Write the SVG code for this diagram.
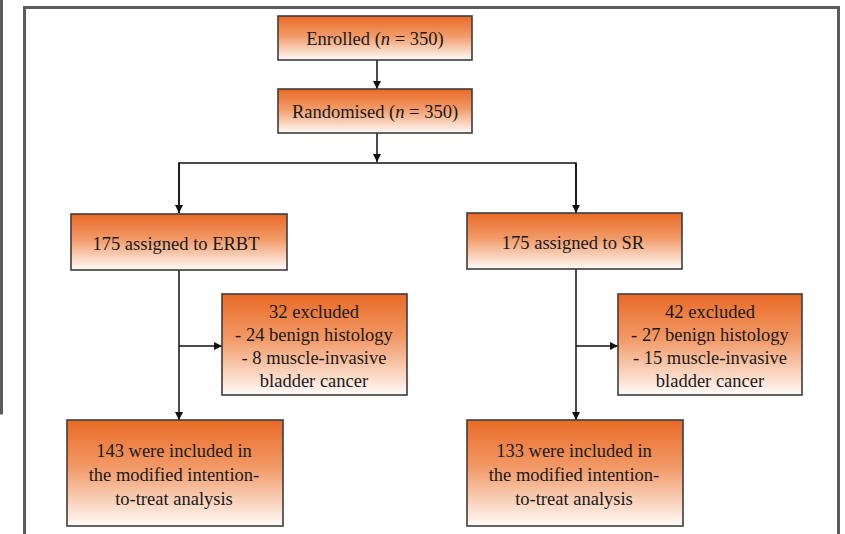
<svg xmlns="http://www.w3.org/2000/svg" width="845" height="534" viewBox="0 0 845 534">
<defs>
<linearGradient id="g" x1="0" y1="0" x2="0" y2="1">
<stop offset="0" stop-color="#E96A26"/>
<stop offset="0.45" stop-color="#F29A68"/>
<stop offset="1" stop-color="#FFFBF8"/>
</linearGradient>
<marker id="ah" viewBox="0 0 10 10" refX="10" refY="5" markerWidth="8" markerHeight="8" markerUnits="userSpaceOnUse" orient="auto">
<path d="M0,0 L10,5 L0,10 Z" fill="#111"/>
</marker>
<style>
.box{fill:url(#g);stroke:#3d3d3d;stroke-width:1.6}
.t{font-family:"Liberation Serif","Times New Roman",serif;font-size:18.5px;fill:#1a1a1a;text-anchor:middle}
.c{fill:none;stroke:#111;stroke-width:1.5}
.frame{fill:none;stroke:#5c5c5c;stroke-width:3}
</style>
</defs>
<rect width="845" height="534" fill="#fff"/>
<g id="frame">
<polyline class="frame" points="1.5,0 1.5,413 0,413"/>
<polyline class="frame" points="24.5,534 24.5,7.5 838.5,7.5 838.5,534"/>
</g>
<g id="connectors">
<line class="c" x1="377" y1="60" x2="377" y2="89" marker-end="url(#ah)"/>
<line class="c" x1="377" y1="133" x2="377" y2="162" marker-end="url(#ah)"/>
<polyline class="c" points="179,213 179,163 576,163 576,213"/>
<line class="c" x1="179" y1="163" x2="179" y2="213" marker-end="url(#ah)"/>
<line class="c" x1="576" y1="163" x2="576" y2="213" marker-end="url(#ah)"/>
<line class="c" x1="179" y1="270" x2="179" y2="420" marker-end="url(#ah)"/>
<line class="c" x1="179" y1="346" x2="222" y2="346" marker-end="url(#ah)"/>
<line class="c" x1="576" y1="269" x2="576" y2="420" marker-end="url(#ah)"/>
<line class="c" x1="576" y1="346" x2="618" y2="346" marker-end="url(#ah)"/>
</g>
<g id="enrolled">
<rect class="box" x="278" y="16" width="194" height="44"/>
<text class="t" x="375" y="45">Enrolled (<tspan font-style="italic">n</tspan> = 350)</text>
</g>
<g id="randomised">
<rect class="box" x="278" y="89" width="194" height="44"/>
<text class="t" x="375" y="118">Randomised (<tspan font-style="italic">n</tspan> = 350)</text>
</g>
<g id="erbt">
<rect class="box" x="71" y="214" width="216" height="56"/>
<text class="t" x="176" y="250">175 assigned to ERBT</text>
</g>
<g id="sr">
<rect class="box" x="467" y="213" width="215" height="56"/>
<text class="t" x="573" y="249">175 assigned to SR</text>
</g>
<g id="excluded-erbt">
<rect class="box" x="222" y="294" width="185" height="101"/>
<text class="t" x="314" y="318">32 excluded</text>
<text class="t" x="314" y="341">- 24 benign histology</text>
<text class="t" x="314" y="364">- 8 muscle-invasive</text>
<text class="t" x="314" y="387">bladder cancer</text>
</g>
<g id="excluded-sr">
<rect class="box" x="618" y="294" width="184" height="101"/>
<text class="t" x="710" y="318">42 excluded</text>
<text class="t" x="710" y="341">- 27 benign histology</text>
<text class="t" x="710" y="364">- 15 muscle-invasive</text>
<text class="t" x="710" y="387">bladder cancer</text>
</g>
<g id="included-erbt">
<rect class="box" x="67" y="420" width="216" height="106"/>
<text class="t" x="174" y="457">143 were included in</text>
<text class="t" x="174" y="481">the modified intention-</text>
<text class="t" x="174" y="505">to-treat analysis</text>
</g>
<g id="included-sr">
<rect class="box" x="467" y="420" width="216" height="106"/>
<text class="t" x="574" y="457">133 were included in</text>
<text class="t" x="574" y="481">the modified intention-</text>
<text class="t" x="574" y="505">to-treat analysis</text>
</g>
</svg>
